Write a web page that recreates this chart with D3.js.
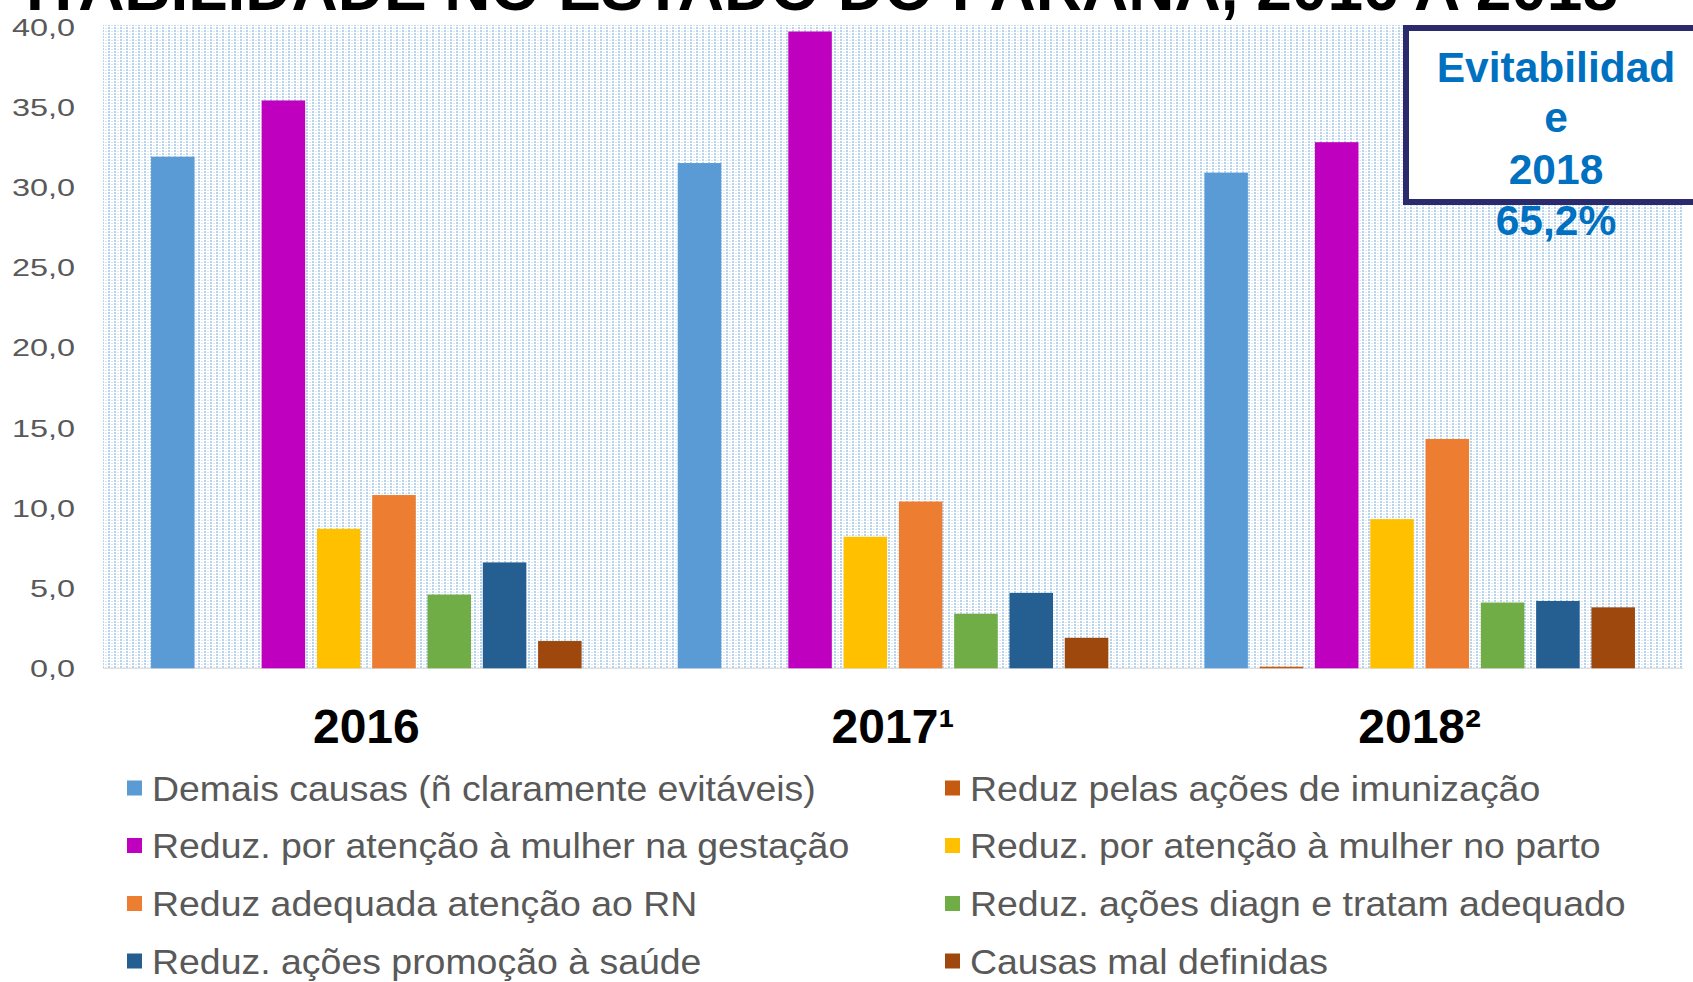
<!DOCTYPE html>
<html><head><meta charset="utf-8">
<script src="https://cdn.jsdelivr.net/npm/d3@7"></script>
<style>
body{margin:0;background:#fff;overflow:hidden}
svg{display:block}
text{font-family:"Liberation Sans",Arial,sans-serif}
</style>
</head><body>
<svg id="c" width="1693" height="982"></svg>
<script>
// ---------- DATA ----------
const years = ["2016", "2017\u00B9", "2018\u00B2"];
const seriesNames = [
  "Demais causas (ñ claramente evitáveis)",
  "Reduz pelas ações de imunização",
  "Reduz. por atenção à mulher na gestação",
  "Reduz. por atenção à mulher no parto",
  "Reduz adequada atenção ao RN",
  "Reduz. ações diagn e tratam adequado",
  "Reduz. ações promoção à saúde",
  "Causas mal definidas"
];
const seriesColors = ["#5B9BD5","#C55A11","#BF00BF","#FFC000","#ED7D31","#70AD47","#255E91","#9E480E"];
const demaisCausas   = [31.9, 31.5, 30.9];
const imunizacao     = [0.0, 0.0, 0.1];
const gestacao       = [35.4, 39.7, 32.8];
const parto          = [8.7, 8.2, 9.3];
const atencaoRN      = [10.8, 10.4, 14.3];
const diagnTratam    = [4.6, 3.4, 4.1];
const promocaoSaude  = [6.6, 4.7, 4.2];
const malDefinidas   = [1.7, 1.9, 3.8];
const yTicks = [0, 5, 10, 15, 20, 25, 30, 35, 40];
const titleText = "ITABILIDADE NO ESTADO DO PARANÁ, 2016 A 2018";
const boxLines = ["Evitabilidad", "e", "2018"];
const boxValue = "65,2%";

const allValues = [demaisCausas, imunizacao, gestacao, parto, atencaoRN, diagnTratam, promocaoSaude, malDefinidas];

// ---------- LAYOUT ----------
const svg = d3.select("#c");
const plot = {left: 103, right: 1683, top: 25, bottom: 668.3};
const SX = 1.38;   // horizontal stretch of axis texts
const LSX = 1.07;  // horizontal stretch of legend texts

const x0 = d3.scaleBand().domain(years).range([plot.left, plot.right]).padding(0);
const x1 = d3.scaleBand().domain(d3.range(seriesNames.length))
  .range([0, x0.bandwidth()]).paddingInner(0.213).paddingOuter(0.869);
const y = d3.scaleLinear().domain([0, 40]).range([plot.bottom, 26.7]);

// background pattern
const defs = svg.append("defs");
const pat = defs.append("pattern").attr("id","dots").attr("patternUnits","userSpaceOnUse")
  .attr("width", 6).attr("height", 3);
pat.append("rect").attr("width",6).attr("height",3).attr("fill","#ffffff");
pat.append("rect").attr("x",0).attr("y",0).attr("width",2).attr("height",2).attr("fill","#B8D3EE");
pat.append("rect").attr("x",3).attr("y",1).attr("width",2).attr("height",1).attr("fill","#DAE8F6");

svg.append("rect").attr("x", plot.left).attr("y", plot.top)
  .attr("width", plot.right - plot.left).attr("height", plot.bottom - plot.top)
  .attr("fill", "url(#dots)");

// baseline
svg.append("line").attr("x1", plot.left).attr("x2", plot.right)
  .attr("y1", y(0)).attr("y2", y(0)).attr("stroke", "#D9D9D9").attr("stroke-width", 1);

// y axis
const yAxis = svg.append("g").attr("transform", `translate(${plot.left},0)`)
  .call(d3.axisLeft(y).tickValues(yTicks).tickSize(0).tickPadding(0)
    .tickFormat(d => d3.format(".1f")(d).replace(".", ",")));
yAxis.select(".domain").remove();
yAxis.selectAll("text")
  .attr("x", -28 / SX).attr("dy", "0.36em")
  .attr("transform", `scale(${SX},1)`)
  .attr("fill", "#595959").style("font-size", "23.5px")
  .style("font-family", '"Liberation Sans",Arial,sans-serif');

// bars
const groups = svg.append("g").selectAll("g").data(years).join("g")
  .attr("transform", d => `translate(${x0(d)},0)`);
groups.selectAll("rect")
  .data((d, i) => allValues.map((arr, s) => ({s, v: arr[i]})))
  .join("rect")
  .attr("x", d => x1(d.s))
  .attr("width", x1.bandwidth())
  .attr("y", d => y(d.v))
  .attr("height", d => y(0) - y(d.v))
  .attr("fill", d => seriesColors[d.s]);

// category labels
svg.append("g").selectAll("text").data(years).join("text")
  .attr("x", d => x0(d) + x0.bandwidth() / 2)
  .attr("y", 743)
  .attr("text-anchor", "middle")
  .attr("font-weight", "bold")
  .attr("font-size", 48)
  .attr("fill", "#000")
  .text(d => d);

// legend
const legend = svg.append("g");
const colX = [127, 945];
const rowY = [788, 845.5, 903.5, 961];
seriesNames.forEach((name, i) => {
  const cx = colX[i % 2], cy = rowY[Math.floor(i / 2)];
  legend.append("rect").attr("x", cx).attr("y", cy - 7.5).attr("width", 15).attr("height", 15)
    .attr("fill", seriesColors[i]);
  legend.append("text")
    .attr("transform", `translate(${cx + 25},${cy}) scale(${LSX},1)`)
    .attr("dy", "0.36em")
    .attr("fill", "#595959").attr("font-size", 35)
    .text(name);
});

// title (clipped at top of page)
svg.append("text").attr("x", 1618).attr("y", 10)
  .attr("text-anchor", "end").attr("font-weight", "bold").attr("font-size", 64)
  .attr("fill", "#000").text(titleText);

// evitabilidade box
svg.append("rect").attr("x", 1406).attr("y", 28).attr("width", 320).attr("height", 174)
  .attr("fill", "#fff").attr("stroke", "#2A2A6C").attr("stroke-width", 6);
const boxBase = [82, 132, 184];
boxLines.forEach((t, i) => {
  svg.append("text").attr("x", 1556).attr("y", boxBase[i]).attr("text-anchor", "middle")
    .attr("font-weight", "bold").attr("font-size", 42.5).attr("fill", "#0070C0").text(t);
});
svg.append("text").attr("x", 1556).attr("y", 235).attr("text-anchor", "middle")
  .attr("font-weight", "bold").attr("font-size", 42.5).attr("fill", "#0070C0").text(boxValue);
</script>
</body></html>
